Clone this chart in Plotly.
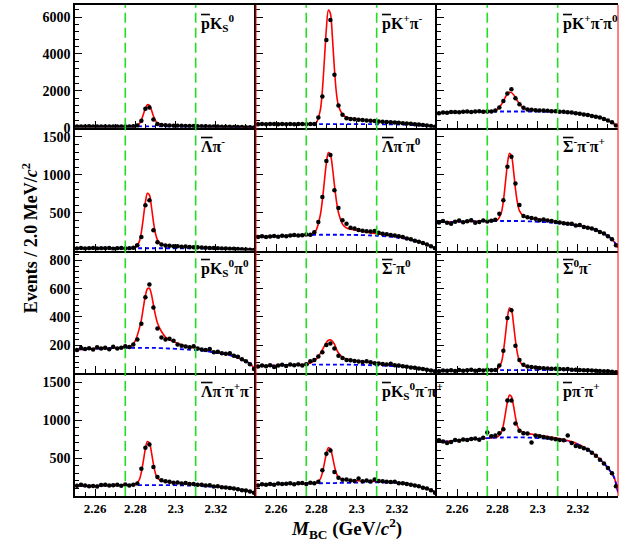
import plotly.graph_objects as go
from plotly.subplots import make_subplots

# bin centres (2.0 MeV bins) and the grid the fit curves are drawn on
bin_mass = [2.251, 2.253, 2.255, 2.257, 2.259, 2.261, 2.263, 2.265, 2.267, 2.269,
            2.271, 2.273, 2.275, 2.277, 2.279, 2.281, 2.283, 2.285, 2.287, 2.289,
            2.291, 2.293, 2.295, 2.297, 2.299, 2.301, 2.303, 2.305, 2.307, 2.309,
            2.311, 2.313, 2.315, 2.317, 2.319, 2.321, 2.323, 2.325, 2.327, 2.329,
            2.331, 2.333, 2.335, 2.337, 2.339]
fit_mass = [2.250, 2.255, 2.260, 2.265, 2.270, 2.275, 2.278, 2.280, 2.282, 2.283,
            2.284, 2.285, 2.286, 2.287, 2.288, 2.289, 2.290, 2.291, 2.293, 2.295,
            2.298, 2.302, 2.306, 2.310, 2.315, 2.320, 2.325, 2.330, 2.335, 2.338, 2.340]

# pbar K_S
pks_data = [65, 72, 68, 75, 70, 66, 73, 69, 71, 64, 74, 70, 68, 72, 75, 120, 380, 1030, 1100, 450,
            200, 150, 130, 120, 115, 110, 105, 100, 96, 92, 88, 82, 78, 72, 66, 63, 58, 55, 50, 46,
            40, 35, 28, 22, 10]
pks_fit = [70, 70, 70, 70, 70, 70, 72, 85, 218, 418, 731, 1061, 1250, 1215, 967, 636, 389, 247, 159, 135,
           122, 109, 99, 89, 77, 65, 56, 44, 29, 18, 5]
pks_bkg = [70, 70, 70, 70, 70, 70, 70, 70, 70, 70, 70, 70, 70, 70, 70, 70, 70, 70, 70, 70,
           69, 68, 67, 65, 62, 56, 50, 40, 28, 18, 5]

# pbar K+ pi-
pkpi_data = [185, 200, 192, 205, 198, 190, 210, 196, 202, 188, 207, 199, 195, 204, 210, 560, 1690, 4760, 5840, 2870,
             1205, 700, 520, 480, 460, 430, 415, 395, 380, 360, 340, 330, 310, 300, 280, 270, 250, 235, 220, 195,
             175, 150, 125, 100, 60]
pkpi_fit = [190, 192, 195, 197, 200, 200, 212, 280, 973, 2023, 3661, 5391, 6380, 6195, 4897, 3166, 1869, 1189, 725, 571,
            495, 431, 385, 345, 309, 274, 234, 184, 125, 82, 40]
pkpi_bkg = [190, 192, 195, 197, 200, 200, 200, 200, 200, 200, 200, 200, 200, 200, 200, 200, 200, 200, 200, 200,
            198, 196, 193, 190, 185, 175, 160, 135, 100, 70, 40]

# pbar K+ pi- pi0
pkpipi0_data = [790, 830, 815, 850, 860, 845, 870, 880, 860, 875, 890, 870, 880, 885, 930, 1100, 1450, 1850, 2087, 1600,
                1280, 1080, 990, 970, 955, 940, 935, 915, 900, 890, 870, 865, 840, 820, 790, 760, 720, 690, 640, 600,
                557, 480, 400, 300, 124]
pkpipi0_fit = [800, 820, 840, 855, 865, 876, 901, 995, 1256, 1455, 1659, 1831, 1920, 1904, 1800, 1643, 1455, 1288, 1068, 995,
               967, 938, 907, 876, 839, 770, 685, 582, 400, 220, 80]
pkpipi0_bkg = [800, 820, 840, 855, 865, 875, 878, 880, 880, 880, 880, 880, 880, 880, 880, 880, 880, 880, 880, 880,
               878, 870, 860, 845, 820, 760, 680, 580, 400, 220, 80]

# Lambdabar pi-
lpi_data = [28, 32, 26, 30, 35, 27, 31, 29, 33, 25, 30, 34, 28, 31, 36, 70, 178, 598, 664, 267,
            110, 80, 68, 62, 58, 55, 50, 52, 46, 44, 42, 40, 37, 35, 33, 30, 28, 27, 25, 22,
            20, 18, 15, 12, 8]
lpi_fit = [30, 30, 30, 30, 30, 30, 31, 39, 121, 244, 436, 639, 755, 733, 581, 378, 226, 139, 84, 70,
           63, 54, 49, 43, 36, 31, 27, 22, 16, 12, 8]
lpi_bkg = [30, 30, 30, 30, 30, 30, 30, 30, 30, 30, 30, 30, 30, 30, 30, 30, 30, 30, 30, 30,
           30, 29, 29, 28, 27, 25, 23, 20, 15, 12, 8]

# Lambdabar pi- pi0
lpipi0_data = [180, 190, 178, 185, 192, 183, 195, 188, 200, 205, 198, 203, 210, 207, 240, 377, 708, 1180, 1259, 796,
               562, 400, 355, 300, 290, 270, 262, 255, 250, 258, 235, 220, 215, 205, 200, 190, 180, 160, 150, 130,
               115, 100, 80, 55, 30]
lpipi0_fit = [175, 182, 188, 194, 199, 203, 218, 274, 472, 664, 914, 1158, 1292, 1267, 1099, 865, 653, 501, 349, 297,
              277, 258, 239, 222, 203, 182, 155, 121, 80, 50, 25]
lpipi0_bkg = [175, 182, 188, 194, 199, 203, 205, 207, 208, 208, 208, 208, 208, 208, 208, 208, 208, 208, 208, 207,
              206, 204, 200, 195, 186, 172, 150, 118, 80, 50, 25]

# Sigmabar- pi- pi+
spipi_data = [370, 390, 365, 355, 380, 395, 372, 388, 400, 365, 378, 396, 384, 392, 405, 487, 664, 1105, 1237, 884,
              600, 456, 440, 430, 420, 400, 410, 395, 390, 375, 370, 360, 355, 352, 330, 338, 310, 300, 290, 270,
              245, 225, 190, 150, 70]
spipi_fit = [375, 378, 381, 384, 386, 388, 391, 402, 501, 653, 889, 1138, 1281, 1254, 1067, 818, 631, 523, 455, 435,
             423, 408, 394, 378, 357, 332, 304, 263, 191, 120, 35]
spipi_bkg = [375, 378, 381, 384, 386, 388, 389, 390, 390, 390, 390, 390, 390, 390, 390, 390, 390, 389, 388, 386,
             383, 377, 370, 360, 345, 325, 300, 260, 190, 120, 35]

# pbar K_S pi0
pkspi0_data = [165, 180, 172, 178, 168, 185, 176, 182, 170, 188, 175, 181, 192, 186, 205, 240, 351, 539, 629, 467,
               318, 253, 240, 245, 230, 205, 195, 190, 185, 192, 175, 168, 165, 172, 150, 152, 142, 138, 143, 125,
               118, 100, 85, 65, 30]
pkspi0_fit = [165, 170, 174, 177, 179, 182, 193, 231, 319, 378, 467, 551, 598, 602, 560, 484, 412, 356, 296, 257,
              230, 208, 189, 178, 164, 148, 137, 116, 85, 55, 18]
pkspi0_bkg = [165, 170, 174, 177, 179, 180, 180, 180, 180, 180, 180, 180, 180, 180, 180, 180, 180, 179, 178, 177,
              175, 172, 168, 165, 158, 145, 135, 115, 85, 55, 18]

# Sigmabar- pi0
spi0_data = [48, 55, 50, 58, 45, 56, 60, 52, 63, 58, 62, 55, 64, 85, 95, 120, 150, 200, 211, 175,
             125, 109, 95, 92, 88, 83, 80, 86, 78, 72, 70, 66, 63, 68, 58, 55, 50, 47, 42, 40,
             35, 30, 25, 20, 14]
spi0_fit = [50, 53, 56, 58, 61, 66, 80, 101, 141, 167, 193, 218, 234, 237, 227, 206, 171, 144, 115, 101,
            92, 85, 77, 70, 62, 54, 47, 38, 27, 20, 12]
spi0_bkg = [50, 53, 56, 58, 60, 61, 62, 62, 62, 62, 62, 62, 62, 62, 62, 62, 62, 62, 62, 62,
            61, 60, 58, 56, 53, 49, 44, 37, 27, 20, 12]

# Sigmabar0 pi-
s0pi_data = [15, 20, 18, 22, 17, 24, 19, 21, 25, 18, 23, 20, 26, 22, 24, 55, 160, 392, 446, 195,
             95, 60, 48, 44, 42, 38, 36, 35, 32, 33, 30, 28, 31, 26, 25, 24, 22, 21, 20, 18,
             17, 15, 14, 11, 7]
s0pi_fit = [18, 19, 20, 21, 22, 22, 23, 28, 77, 152, 268, 392, 462, 449, 356, 233, 141, 88, 55, 46,
            42, 37, 34, 31, 27, 24, 21, 18, 14, 11, 6]
s0pi_bkg = [18, 19, 20, 21, 22, 22, 22, 22, 22, 22, 22, 22, 22, 22, 22, 22, 22, 22, 22, 22,
            22, 22, 22, 22, 22, 20, 19, 17, 14, 11, 6]

# Lambdabar pi- pi+ pi-
l3pi_data = [135, 150, 140, 128, 132, 125, 145, 150, 138, 142, 148, 136, 152, 140, 150, 165, 361, 636, 679, 382,
             252, 209, 195, 187, 175, 180, 165, 172, 160, 158, 150, 148, 140, 142, 125, 130, 115, 112, 105, 98,
             90, 78, 72, 60, 45]
l3pi_fit = [130, 133, 136, 139, 141, 143, 145, 152, 217, 314, 466, 626, 718, 701, 580, 420, 300, 235, 202, 188,
            178, 168, 159, 150, 138, 126, 111, 94, 73, 55, 40]
l3pi_bkg = [130, 133, 136, 139, 141, 143, 144, 145, 145, 145, 145, 145, 145, 145, 145, 145, 145, 145, 145, 145,
            144, 142, 139, 135, 128, 120, 108, 92, 72, 55, 40]

# pbar K_S pi- pi+
pkspipi_data = [140, 155, 148, 160, 150, 165, 158, 162, 170, 155, 168, 172, 160, 175, 170, 190, 339, 557, 600, 317,
                240, 215, 218, 205, 200, 231, 195, 205, 192, 218, 200, 195, 190, 185, 187, 170, 168, 160, 150, 140,
                128, 110, 98, 75, 45]
pkspipi_fit = [145, 150, 155, 159, 163, 166, 168, 174, 227, 306, 431, 561, 636, 623, 525, 395, 298, 245, 220, 209,
               204, 199, 196, 192, 186, 177, 163, 136, 100, 70, 40]
pkspipi_bkg = [145, 150, 155, 159, 163, 166, 167, 168, 169, 169, 170, 170, 170, 171, 171, 171, 172, 172, 173, 174,
               176, 178, 180, 180, 178, 172, 160, 135, 100, 70, 40]

# pbar pi- pi+
ppipi_data = [735, 720, 700, 712, 740, 728, 745, 738, 752, 760, 742, 770, 839, 790, 800, 830, 880, 1262, 1262, 957,
              860, 830, 825, 705, 800, 790, 780, 770, 760, 750, 740, 735, 800, 700, 660, 650, 630, 610, 570, 530,
              480, 430, 370, 300, 130]
ppipi_fit = [710, 722, 735, 746, 755, 763, 769, 777, 842, 937, 1085, 1241, 1331, 1314, 1198, 1042, 925, 869, 840, 827,
             812, 795, 780, 763, 731, 687, 614, 512, 370, 250, 50]
ppipi_bkg = [710, 722, 735, 746, 755, 763, 768, 770, 772, 773, 774, 774, 775, 775, 775, 775, 775, 774, 773, 771,
             768, 762, 755, 745, 720, 680, 610, 510, 370, 250, 50]

signal_window = [2.275, 2.31]
row_ranges = [[0.5, 6650], [0.5, 1620], [0.5, 870], [0.5, 1620]]
row_dticks = [2000, 500, 200, 500]
row_minor = [400, 100, 40, 100]


def bar(s):
    return '<span style="text-decoration:overline">' + s + '</span>'


labels = [
    bar("p") + "K<sub>S</sub><sup>0</sup>",
    bar("p") + "K<sup>+</sup>π<sup>-</sup>",
    bar("p") + "K<sup>+</sup>π<sup>-</sup>π<sup>0</sup>",
    bar("Λ") + "π<sup>-</sup>",
    bar("Λ") + "π<sup>-</sup>π<sup>0</sup>",
    bar("Σ") + "<sup>-</sup>π<sup>-</sup>π<sup>+</sup>",
    bar("p") + "K<sub>S</sub><sup>0</sup>π<sup>0</sup>",
    bar("Σ") + "<sup>-</sup>π<sup>0</sup>",
    bar("Σ") + "<sup>0</sup>π<sup>-</sup>",
    bar("Λ") + "π<sup>-</sup>π<sup>+</sup>π<sup>-</sup>",
    bar("p") + "K<sub>S</sub><sup>0</sup>π<sup>-</sup>π<sup>+</sup>",
    bar("p") + "π<sup>-</sup>π<sup>+</sup>",
]
panels = [
    (pks_data, pks_fit, pks_bkg), (pkpi_data, pkpi_fit, pkpi_bkg), (pkpipi0_data, pkpipi0_fit, pkpipi0_bkg),
    (lpi_data, lpi_fit, lpi_bkg), (lpipi0_data, lpipi0_fit, lpipi0_bkg), (spipi_data, spipi_fit, spipi_bkg),
    (pkspi0_data, pkspi0_fit, pkspi0_bkg), (spi0_data, spi0_fit, spi0_bkg), (s0pi_data, s0pi_fit, s0pi_bkg),
    (l3pi_data, l3pi_fit, l3pi_bkg), (pkspipi_data, pkspipi_fit, pkspipi_bkg), (ppipi_data, ppipi_fit, ppipi_bkg),
]

FONT = "Liberation Serif"
fig = make_subplots(rows=4, cols=3, horizontal_spacing=0, vertical_spacing=0)

for k, (data, fit, bkg) in enumerate(panels):
    row, col = k // 3 + 1, k % 3 + 1
    fig.add_trace(go.Scatter(x=fit_mass, y=fit, mode="lines",
                             line=dict(color="red", width=1.6, shape="spline", smoothing=0.8)),
                  row=row, col=col)
    fig.add_trace(go.Scatter(x=fit_mass, y=bkg, mode="lines",
                             line=dict(color="blue", width=1.8, dash="4px,3px", shape="spline", smoothing=0.8)),
                  row=row, col=col)
    fig.add_trace(go.Scatter(x=bin_mass, y=data, mode="markers",
                             marker=dict(color="black", size=4.5)),
                  row=row, col=col)

    n = "" if k == 0 else str(k + 1)
    for m in signal_window:
        fig.add_shape(type="line", xref="x" + n, yref="y" + n + " domain",
                      x0=m, x1=m, y0=0, y1=1,
                      line=dict(color="#22dd22", width=1.6, dash="10px,5px"))
    fig.add_annotation(xref="x" + n, yref="y" + n + " domain", x=2.3115, y=0.96,
                       xanchor="left", yanchor="top", showarrow=False, text=labels[k],
                       font=dict(family=FONT, size=16, color="black", weight="bold"))

    fig.update_xaxes(row=row, col=col, range=[2.25, 2.34],
                     tickvals=[2.26, 2.28, 2.3, 2.32], ticktext=["2.26", "2.28", "2.3", "2.32"],
                     showticklabels=(row == 4), ticks="inside", ticklen=7, tickwidth=1, tickcolor="black",
                     minor=dict(ticks="inside", ticklen=4, dtick=0.005, tickcolor="black"),
                     showline=True, linecolor="black", linewidth=1.6, mirror=(row == 1),
                     showgrid=False, zeroline=False,
                     tickfont=dict(family=FONT, size=13, color="black", weight="bold"))
    fig.update_yaxes(row=row, col=col, range=row_ranges[row - 1], dtick=row_dticks[row - 1], tick0=0,
                     showticklabels=(col == 1), ticks="inside", ticklen=7, tickwidth=1, tickcolor="black",
                     minor=dict(ticks="inside", ticklen=4, dtick=row_minor[row - 1], tick0=0, tickcolor="black"),
                     showline=True, linecolor="black", linewidth=1.6,
                     showgrid=False, zeroline=False,
                     tickfont=dict(family=FONT, size=14, color="black", weight="bold"))

# red frame edges as in the original canvas
for xe in [1 / 3, 1.0]:
    fig.add_shape(type="line", xref="paper", yref="paper", x0=xe, x1=xe, y0=0, y1=1,
                  line=dict(color="red", width=1))

fig.add_annotation(xref="paper", yref="paper", x=-0.083, y=0.525, textangle=-90,
                   showarrow=False, xanchor="center", yanchor="middle",
                   text="Events / 2.0 MeV/<i>c</i><sup>2</sup>",
                   font=dict(family=FONT, size=18, color="black", weight="bold"))
fig.add_annotation(xref="paper", yref="paper", x=0.5, y=-0.067,
                   showarrow=False, xanchor="center", yanchor="middle",
                   text="<i>M</i><sub>BC</sub> (GeV/<i>c</i><sup>2</sup>)",
                   font=dict(family=FONT, size=19, color="black", weight="bold"))

fig.update_layout(width=638, height=545, showlegend=False,
                  margin=dict(l=75, r=20, t=3, b=49),
                  paper_bgcolor="white", plot_bgcolor="white")

# the page's default body margin would shift the figure; remove it
fig.write_html("out.html", config={"displayModeBar": False},
               post_script="document.body.style.margin='0px';")
